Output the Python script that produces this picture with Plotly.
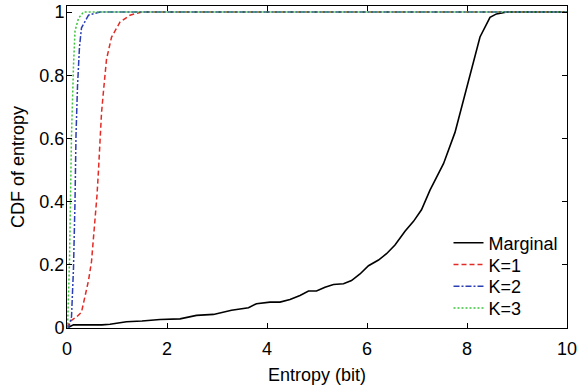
import plotly.graph_objects as go

# Marginal
marg_x = [0, 0.13, 0.7, 0.86, 1.19, 1.5, 1.86, 2.26, 2.59, 2.93, 3.29, 3.63, 3.79, 4.06, 4.26, 4.46,
          4.66, 4.83, 4.99, 5.16, 5.33, 5.53, 5.69, 5.86, 6.03, 6.23, 6.39, 6.56, 6.76, 6.93, 7.09,
          7.26, 7.53, 7.76, 8.26, 8.46, 8.59, 8.8, 10]
marg_y = [0, 0.01, 0.01, 0.012, 0.02, 0.022, 0.027, 0.029, 0.04, 0.043, 0.056, 0.064, 0.077, 0.082,
          0.082, 0.09, 0.103, 0.117, 0.117, 0.129, 0.1375, 0.14, 0.15, 0.171, 0.197, 0.215, 0.235,
          0.2625, 0.306, 0.3375, 0.374, 0.4365, 0.52, 0.619, 0.921, 0.983, 0.994, 1.0, 1.0]

# K=1
k1_x = [0, 0.05, 0.19, 0.29, 0.36, 0.43, 0.49, 0.56, 0.6, 0.63, 0.66, 0.69, 0.73, 0.79, 0.89, 1.06, 1.26, 1.5, 10]
k1_y = [0, 0.02, 0.035, 0.05, 0.1, 0.15, 0.21, 0.34, 0.42, 0.5, 0.6, 0.68, 0.75, 0.85, 0.92, 0.968, 0.99, 1.0, 1.0]

# K=2
k2_x = [0, 0.03, 0.09, 0.13, 0.16, 0.18, 0.21, 0.25, 0.29, 0.43, 0.66, 10]
k2_y = [0, 0.0, 0.035, 0.19, 0.4, 0.61, 0.765, 0.89, 0.95, 0.99, 1.0, 1.0]

# K=3
k3_x = [0, 0.01, 0.05, 0.07, 0.09, 0.13, 0.16, 0.23, 0.33, 10]
k3_y = [0, 0.0, 0.21, 0.4, 0.61, 0.83, 0.94, 0.98, 1.0, 1.0]

x_ticks = [0, 2, 4, 6, 8, 10]
y_ticks = [0, 0.2, 0.4, 0.6, 0.8, 1]

FONT = "Liberation Sans, Arial, Helvetica, sans-serif"
FS = 18

fig = go.Figure()
fig.add_trace(go.Scatter(x=marg_x, y=marg_y, mode="lines", name="Marginal", legend="legend",
                         line=dict(color="black", width=1.6)))
fig.add_trace(go.Scatter(x=k1_x, y=k1_y, mode="lines", name="K=1", legend="legend2",
                         line=dict(color="#e32b25", width=1.5, dash="5px,3px")))
fig.add_trace(go.Scatter(x=k2_x, y=k2_y, mode="lines", name="K=2", legend="legend3",
                         line=dict(color="#2b3fb3", width=1.5, dash="6px,2px,2px,2px")))
fig.add_trace(go.Scatter(x=k3_x, y=k3_y, mode="lines", name="K=3", legend="legend4",
                         line=dict(color="#3cc43c", width=1.5, dash="2px,2px")))

axis_common = dict(showline=True, linecolor="black", linewidth=1, mirror="ticks",
                   ticks="inside", ticklen=5, tickcolor="black", tickwidth=1,
                   showgrid=False, zeroline=False, ticklabeloverflow="allow",
                   tickfont=dict(family=FONT, size=FS, color="black"))

def leg(ypix):
    # ypix: pixel centre of legend row; plot area spans 2..328
    return dict(x=0.763, y=(328 - ypix) / 326, xanchor="left", yanchor="middle",
                bgcolor="rgba(0,0,0,0)", borderwidth=0,
                font=dict(family=FONT, size=FS, color="black"), itemwidth=30)

fig.update_layout(
    width=585, height=386,
    margin=dict(l=67, r=18, t=2, b=58),
    paper_bgcolor="white", plot_bgcolor="white",
    showlegend=True,
    font=dict(family=FONT, size=FS, color="black"),
    xaxis=dict(range=[0, 10], tickvals=x_ticks, ticklabelstandoff=4,
               title=dict(text="Entropy (bit)", font=dict(size=FS), standoff=10),
               **axis_common),
    yaxis=dict(range=[0, 1.019], tickvals=y_ticks, ticklabelstandoff=-2,
               title=dict(text="CDF of entropy", font=dict(size=FS), standoff=10),
               **axis_common),
    legend=leg(242),
    legend2=leg(264),
    legend3=leg(286),
    legend4=leg(308),
)

fig.write_html("out.html")
